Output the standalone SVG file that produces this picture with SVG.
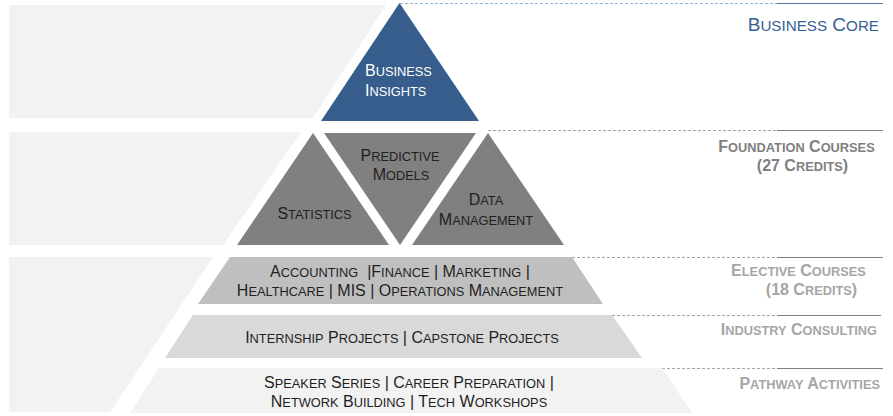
<svg xmlns="http://www.w3.org/2000/svg" width="893" height="416" viewBox="0 0 893 416">
<style>
  text { font-family: "Liberation Sans", Arial, sans-serif; font-size: 16px; }
  .s { font-size: 12.8px; }
  .dark { fill: #1f1f1f; }
  .white { fill: #ffffff; }
  .lbl { font-weight: bold; }
  .g1 { fill: #7f7f7f; }
  .g2 { fill: #a6a6a6; }
  .core { fill: #376092; font-size: 19px; }
  .core .s { font-size: 15.2px; }
  .dashb { stroke: #95b3d7; stroke-width: 1; stroke-dasharray: 3 2; fill: none; }
  .solb { stroke: #4f75a8; stroke-width: 1; fill: none; }
  .dashg { stroke: #a6a6a6; stroke-width: 1; stroke-dasharray: 3 2; fill: none; }
  .solg { stroke: #808080; stroke-width: 1; fill: none; }
  .panel { fill: #f2f2f2; }
</style>
<rect width="893" height="416" fill="#ffffff"/>
<g id="panels">
  <polygon class="panel" points="9,5 386,5 313,118 9,118"/>
  <polygon class="panel" points="9,132 301,132 223,245 9,245"/>
  <polygon class="panel" points="9,257 213,257 110,412 9,412"/>
</g>
<g id="connectors">
  <line class="dashb" x1="400" y1="3.5" x2="777" y2="3.5"/>
  <line class="solb" x1="777" y1="3.5" x2="883" y2="3.5"/>
  <line class="dashg" x1="488" y1="130.5" x2="777" y2="130.5"/>
  <line class="solg" x1="777" y1="130.5" x2="883" y2="130.5"/>
  <line class="dashg" x1="572" y1="257.5" x2="777" y2="257.5"/>
  <line class="solg" x1="777" y1="257.5" x2="883" y2="257.5"/>
  <line class="dashg" x1="612" y1="315.5" x2="777" y2="315.5"/>
  <line class="solg" x1="777" y1="315.5" x2="881" y2="315.5"/>
  <line class="dashg" x1="662" y1="368.5" x2="777" y2="368.5"/>
  <line class="solg" x1="777" y1="368.5" x2="883" y2="368.5"/>
</g>
<g id="business-insights">
  <polygon points="399.5,3 321,121 479,121" fill="#375d8c"/>
  <text class="white" x="365" y="76">B<tspan class="s">USINESS</tspan></text>
  <text class="white" x="365" y="95.5">I<tspan class="s">NSIGHTS</tspan></text>
</g>
<g id="statistics">
  <polygon points="313,133 237,245 389,245" fill="#808080"/>
  <text class="dark" x="314.5" y="219" text-anchor="middle">S<tspan class="s">TATISTICS</tspan></text>
</g>
<g id="predictive-models">
  <polygon points="324,133 476,133 400,245" fill="#808080"/>
  <text class="dark" x="400" y="160.5" text-anchor="middle">P<tspan class="s">REDICTIVE</tspan></text>
  <text class="dark" x="401" y="179.5" text-anchor="middle">M<tspan class="s">ODELS</tspan></text>
</g>
<g id="data-management">
  <polygon points="488,133 412,245 564,245" fill="#808080"/>
  <text class="dark" x="486" y="205" text-anchor="middle">D<tspan class="s">ATA</tspan></text>
  <text class="dark" x="486" y="224.5" text-anchor="middle">M<tspan class="s">ANAGEMENT</tspan></text>
</g>
<g id="elective-band">
  <polygon points="230,257 572,257 603,304 198,304" fill="#bfbfbf"/>
  <text class="dark" x="400" y="276.5" text-anchor="middle" xml:space="preserve">A<tspan class="s">CCOUNTING</tspan>  |F<tspan class="s">INANCE</tspan> | M<tspan class="s">ARKETING</tspan> |</text>
  <text class="dark" x="400" y="295.5" text-anchor="middle">H<tspan class="s">EALTHCARE</tspan> | MIS | O<tspan class="s">PERATIONS</tspan> M<tspan class="s">ANAGEMENT</tspan></text>
</g>
<g id="industry-band">
  <polygon points="193,315 612,315 642,358 165,358" fill="#d9d9d9"/>
  <text class="dark" x="402" y="343" text-anchor="middle">I<tspan class="s">NTERNSHIP</tspan> P<tspan class="s">ROJECTS</tspan> | C<tspan class="s">APSTONE</tspan> P<tspan class="s">ROJECTS</tspan></text>
</g>
<g id="pathway-band">
  <polygon points="159,368 662,368 692,413 130,413" fill="#f2f2f2"/>
  <text class="dark" x="409" y="387.5" text-anchor="middle">S<tspan class="s">PEAKER</tspan> S<tspan class="s">ERIES</tspan> | C<tspan class="s">AREER</tspan> P<tspan class="s">REPARATION</tspan> |</text>
  <text class="dark" x="409" y="406.5" text-anchor="middle">N<tspan class="s">ETWORK</tspan> B<tspan class="s">UILDING</tspan> | T<tspan class="s">ECH</tspan> W<tspan class="s">ORKSHOPS</tspan></text>
</g>
<g id="label-business-core">
  <text class="core" x="879" y="30.5" text-anchor="end">B<tspan class="s">USINESS</tspan> C<tspan class="s">ORE</tspan></text>
</g>
<g id="label-foundation">
  <text class="lbl g1" x="796.5" y="151.5" text-anchor="middle">F<tspan class="s">OUNDATION</tspan> C<tspan class="s">OURSES</tspan></text>
  <text class="lbl g1" x="802.5" y="170.5" text-anchor="middle">(27 C<tspan class="s">REDITS</tspan>)</text>
</g>
<g id="label-elective">
  <text class="lbl g2" x="798.5" y="275.5" text-anchor="middle">E<tspan class="s">LECTIVE</tspan> C<tspan class="s">OURSES</tspan></text>
  <text class="lbl g2" x="811.5" y="295" text-anchor="middle">(18 C<tspan class="s">REDITS</tspan>)</text>
</g>
<g id="label-industry">
  <text class="lbl g2" x="877" y="334.5" text-anchor="end">I<tspan class="s">NDUSTRY</tspan> C<tspan class="s">ONSULTING</tspan></text>
</g>
<g id="label-pathway">
  <text class="lbl g2" x="880" y="388.5" text-anchor="end">P<tspan class="s">ATHWAY</tspan> A<tspan class="s">CTIVITIES</tspan></text>
</g>
</svg>
